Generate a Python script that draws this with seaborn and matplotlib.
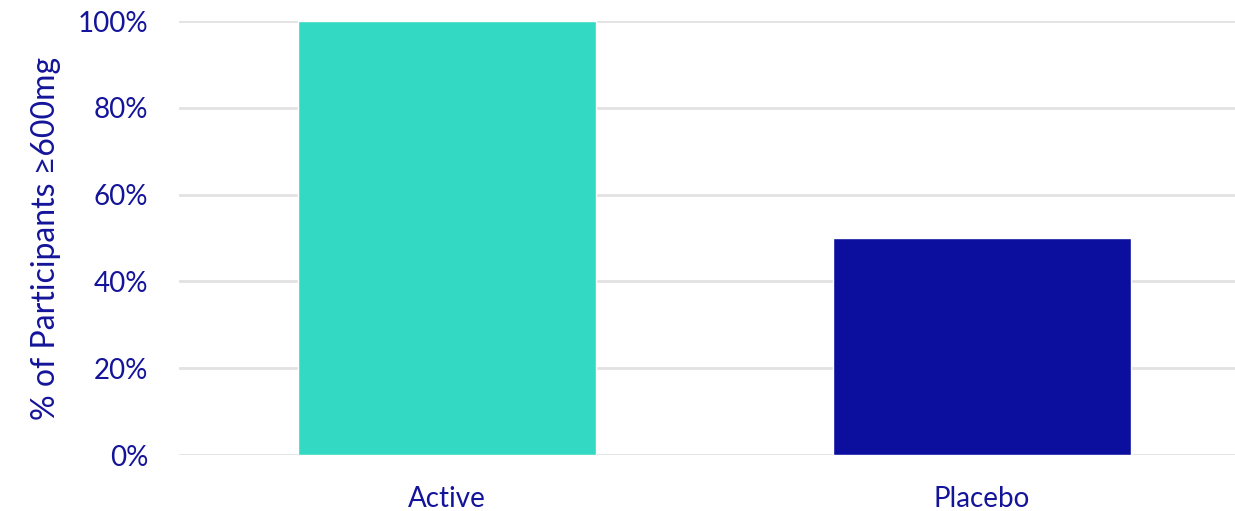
import matplotlib
matplotlib.use("Agg")
import matplotlib.pyplot as plt
import seaborn as sns
import pandas as pd

groups = ["Active", "Placebo"]
pct_values = [100, 50]
bar_colors = ["#33D9C2", "#0C0F9E"]
y_ticks = [0, 20, 40, 60, 80, 100]
y_label = "% of Participants ≥600mg"

text_color = "#14149A"

sns.set_theme(style="white")
plt.rcParams["font.family"] = ["Lato", "DejaVu Sans"]

df = pd.DataFrame({"group": groups, "pct": pct_values})

fig = plt.figure(figsize=(12.35, 5.11), dpi=100)
ax = fig.add_axes([179 / 1235, 56 / 511, 1 - 179 / 1235, 434 / 511])

sns.barplot(data=df, x="group", y="pct", hue="group", palette=bar_colors,
            width=0.557, legend=False, ax=ax, saturation=1, zorder=3)

ax.set_ylim(0, 100)
ax.set_xlim(-0.501, -0.501 + 1056 / 535)
ax.set_yticks(y_ticks)
ax.set_yticklabels([f"{t}%" for t in y_ticks])
ax.yaxis.grid(True, color="#E2E2E2", linewidth=2, zorder=0)
ax.set_axisbelow(True)
for s in ax.spines.values():
    s.set_visible(False)

ax.tick_params(axis="both", length=0, labelsize=20, labelcolor=text_color)
ax.tick_params(axis="y", pad=22)
ax.tick_params(axis="x", pad=22)
ax.set_xlabel("")
ax.set_ylabel(y_label, fontsize=23, color=text_color, labelpad=12)

fig.savefig("out.png", dpi=100)
